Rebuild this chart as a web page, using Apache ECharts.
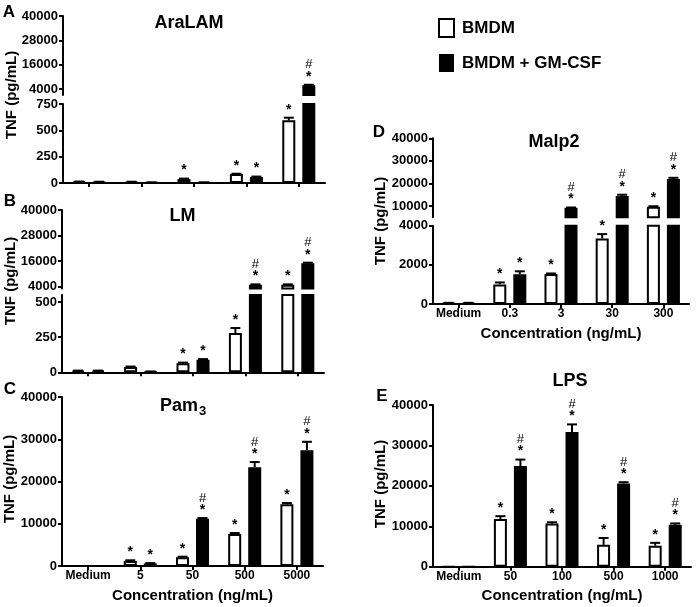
<!DOCTYPE html>
<html>
<head>
<meta charset="utf-8">
<script src="https://cdn.jsdelivr.net/npm/echarts@6/dist/echarts.min.js"></script>
<style>html,body{margin:0;padding:0;background:#fff}#c{width:697px;height:607px}</style>
</head>
<body>
<div id="c"></div>
<script>
// ---------- data ----------
const catsAB = ['Medium', '5', '50', '500', '5000'];
const catsD = ['Medium', '0.3', '3', '30', '300'];
const catsE = ['Medium', '50', '100', '500', '1000'];

// A: AraLAM
const araWhite = [12, 10, 38, 85, 595];
const araWhiteErr = [2, 2, 4, 3, 25];
const araBlack = [10, 5, 5, 58, 5800];
const araBlackErr = [2, 1, 1, 3, 250];
const araWhiteSig = ['', '', '*', '*', '*'];
const araBlackSig = ['', '', '', '*', '*#'];

// B: LM
const lmWhite = [10, 38, 65, 280, 5000];
const lmWhiteErr = [2, 3, 4, 35, 150];
const lmBlack = [10, 5, 90, 5000, 15000];
const lmBlackErr = [2, 1, 4, 150, 300];
const lmWhiteSig = ['', '', '*', '*', '*'];
const lmBlackSig = ['', '', '*', '*#', '*#'];

// C: Pam3
const pamWhite = [0, 1200, 2100, 7600, 14600];
const pamWhiteErr = [0, 150, 100, 200, 300];
const pamBlack = [0, 600, 11200, 23400, 27400];
const pamBlackErr = [0, 80, 150, 1200, 2000];
const pamWhiteSig = ['', '*', '*', '*', '*'];
const pamBlackSig = ['', '*', '*#', '*#', '*#'];

// D: Malp2
const malpWhite = [50, 1000, 1530, 3350, 9700];
const malpWhiteErr = [10, 100, 30, 220, 200];
const malpBlack = [50, 1520, 9200, 14400, 22000];
const malpBlackErr = [10, 150, 150, 600, 500];
const malpWhiteSig = ['', '*', '*', '*', '*'];
const malpBlackSig = ['', '*', '*#', '*#', '*#'];

// E: LPS
const lpsWhite = [0, 11800, 10700, 5400, 5200];
const lpsWhiteErr = [0, 700, 300, 1700, 700];
const lpsBlack = [0, 24900, 33300, 20600, 10400];
const lpsBlackErr = [0, 1600, 1900, 300, 300];
const lpsWhiteSig = ['', '*', '*', '*', '*'];
const lpsBlackSig = ['', '*#', '*#', '*#', '*#'];

// tick labels
const ticksUpper = [4000, 16000, 28000, 40000];
const ticksA = [0, 250, 500, 750];
const ticksB = [0, 250, 500];
const ticksFull = [0, 10000, 20000, 30000, 40000];
const ticksDUpper = [10000, 20000, 30000, 40000];
const ticksD = [0, 2000, 4000];

const seriesNames = ['BMDM', 'BMDM + GM-CSF'];
const xName = 'Concentration (ng/mL)';
const yName = 'TNF (pg/mL)';

// ---------- build ----------
const FONT = '"Liberation Sans", Arial, Helvetica, sans-serif';
const grids = [], xAxes = [], yAxes = [], series = [];
const BAR_W = 13, OFF = 10;

function errSeries(gi, vals, errs, sigs, offset, min, max) {
  return {
    type: 'custom', xAxisIndex: gi, yAxisIndex: gi, z: 5, silent: true,
    data: vals.map((v, i) => [i, v, errs[i]]),
    renderItem: function (params, api) {
      const i = params.dataIndex;
      const v = vals[i], e = errs[i], top = v + e;
      if (top < min || top > max) return null;
      const base = api.coord([i, v]);
      const tp = api.coord([i, top]);
      const x = base[0] + offset;
      const ch = [];
      if (e > 0) {
        ch.push({ type: 'line', shape: { x1: x, y1: base[1], x2: x, y2: tp[1] }, style: { stroke: '#000', lineWidth: 2 } });
        ch.push({ type: 'line', shape: { x1: x - 5, y1: tp[1], x2: x + 5, y2: tp[1] }, style: { stroke: '#000', lineWidth: 2 } });
      }
      const s = sigs[i];
      if (s.indexOf('*') >= 0) {
        ch.push({ type: 'text', style: { text: '*', x: x, y: tp[1] - 8, font: 'bold 14px ' + FONT, fill: '#000', align: 'center', verticalAlign: 'middle', textAlign: 'center', textVerticalAlign: 'middle' } });
      }
      if (s.indexOf('#') >= 0) {
        ch.push({ type: 'text', style: { text: '#', x: x, y: tp[1] - 20, font: '13px ' + FONT, fill: '#000', align: 'center', verticalAlign: 'middle', textAlign: 'center', textVerticalAlign: 'middle' } });
      }
      return { type: 'group', children: ch };
    }
  };
}

function addPanel(p) {
  p.segs.forEach(function (s, k) {
    const gi = grids.length;
    const isBottom = k === p.segs.length - 1;
    grids.push({ left: p.left, width: p.width, top: s.top, height: s.height, containLabel: false });
    xAxes.push({
      type: 'category', gridIndex: gi, data: p.cats,
      axisLine: { show: isBottom, onZero: false, lineStyle: { color: '#000', width: 2 } },
      axisTick: { show: isBottom, alignWithLabel: true, interval: 0, length: 4, lineStyle: { color: '#000', width: 2 } },
      axisLabel: { show: isBottom && p.xLabels, interval: 0, margin: 4, color: '#000', fontSize: 12, fontWeight: 'bold', fontFamily: FONT },
      splitLine: { show: false },
      name: (isBottom && p.xLabels) ? xName : '',
      nameLocation: 'middle', nameGap: 22,
      nameTextStyle: { color: '#000', fontSize: 15, fontWeight: 'bold', fontFamily: FONT }
    });
    yAxes.push({
      type: 'value', gridIndex: gi, min: s.min, max: s.max,
      axisLine: { show: true, onZero: false, lineStyle: { color: '#000', width: 2 } },
      axisTick: { show: true, length: 4, customValues: s.ticks, lineStyle: { color: '#000', width: 2 } },
      axisLabel: { show: true, margin: 5, customValues: s.ticks, formatter: function (v) { return String(v); },
        color: '#000', fontSize: 13, fontWeight: 'bold', fontFamily: FONT },
      splitLine: { show: false }
    });
    series.push({
      type: 'bar', name: seriesNames[0], xAxisIndex: gi, yAxisIndex: gi, data: p.white,
      barWidth: BAR_W, barGap: '54%', silent: true,
      itemStyle: { color: '#fff', borderColor: '#000', borderWidth: 2 }
    });
    series.push({
      type: 'bar', name: seriesNames[1], xAxisIndex: gi, yAxisIndex: gi, data: p.black,
      barWidth: BAR_W, barGap: '54%', silent: true,
      itemStyle: { color: '#000', borderColor: '#000', borderWidth: 2 }
    });
    series.push(errSeries(gi, p.white, p.whiteErr, p.whiteSig, -OFF, s.min, s.max));
    series.push(errSeries(gi, p.black, p.blackErr, p.blackSig, OFF, s.min, s.max));
  });
}

addPanel({ left: 63, width: 262, cats: catsAB, xLabels: false,
  white: araWhite, whiteErr: araWhiteErr, black: araBlack, blackErr: araBlackErr, whiteSig: araWhiteSig, blackSig: araBlackSig,
  segs: [{ top: 16, height: 79, min: 1000, max: 40000, ticks: ticksUpper },
         { top: 104, height: 79, min: 0, max: 750, ticks: ticksA }] });
addPanel({ left: 62, width: 262, cats: catsAB, xLabels: false,
  white: lmWhite, whiteErr: lmWhiteErr, black: lmBlack, blackErr: lmBlackErr, whiteSig: lmWhiteSig, blackSig: lmBlackSig,
  segs: [{ top: 210, height: 78.5, min: 3200, max: 40000, ticks: ticksUpper },
         { top: 295, height: 77.3, min: 0, max: 550, ticks: ticksB }] });
addPanel({ left: 62, width: 261, cats: catsAB, xLabels: true,
  white: pamWhite, whiteErr: pamWhiteErr, black: pamBlack, blackErr: pamBlackErr, whiteSig: pamWhiteSig, blackSig: pamBlackSig,
  segs: [{ top: 397, height: 169, min: 0, max: 40000, ticks: ticksFull }] });
addPanel({ left: 433, width: 256, cats: catsD, xLabels: true,
  white: malpWhite, whiteErr: malpWhiteErr, black: malpBlack, blackErr: malpBlackErr, whiteSig: malpWhiteSig, blackSig: malpBlackSig,
  segs: [{ top: 138.3, height: 79, min: 5000, max: 40000, ticks: ticksDUpper },
         { top: 225.7, height: 78.3, min: 0, max: 4000, ticks: ticksD }] });
addPanel({ left: 433, width: 258, cats: catsE, xLabels: true,
  white: lpsWhite, whiteErr: lpsWhiteErr, black: lpsBlack, blackErr: lpsBlackErr, whiteSig: lpsWhiteSig, blackSig: lpsBlackSig,
  segs: [{ top: 405, height: 161.7, min: 0, max: 40000, ticks: ticksFull }] });

function txt(text, x, y, size, opts) {
  opts = opts || {};
  return { type: 'text', x: x, y: y, rotation: opts.rot || 0, silent: true,
    style: { text: text, font: 'bold ' + size + 'px ' + FONT, fill: '#000',
      align: opts.align || 'center', verticalAlign: 'middle', textAlign: opts.align || 'center', textVerticalAlign: 'middle' } };
}

const graphics = [
  txt('A', 9, 12, 17), txt('B', 10, 201, 17), txt('C', 10, 389, 17), txt('D', 379, 132, 17), txt('E', 382, 396, 17),
  txt('AraLAM', 189, 23, 18), txt('LM', 182.5, 216.5, 18),
  txt('Pam', 160, 406, 18, { align: 'left' }), txt('3', 199, 411, 13, { align: 'left' }),
  txt('Malp2', 554, 142.5, 18), txt('LPS', 570, 381, 18),
  txt(yName, 12, 95, 15, { rot: Math.PI / 2 }), txt(yName, 11, 281, 15, { rot: Math.PI / 2 }),
  txt(yName, 10, 479, 15, { rot: Math.PI / 2 }), txt(yName, 381, 221, 15, { rot: Math.PI / 2 }),
  txt(yName, 381, 484, 15, { rot: Math.PI / 2 })
];

const chart = echarts.init(document.getElementById('c'), null, { renderer: 'canvas' });
chart.setOption({
  backgroundColor: '#fff',
  animation: false,
  legend: {
    orient: 'vertical', left: 433, top: 13, itemWidth: 15, itemHeight: 18, itemGap: 16,
    selectedMode: false,
    data: [
      { name: seriesNames[0], icon: 'rect', itemStyle: { color: '#fff', borderColor: '#000', borderWidth: 2 } },
      { name: seriesNames[1], icon: 'rect', itemStyle: { color: '#000', borderColor: '#000', borderWidth: 0 } }
    ],
    textStyle: { color: '#000', fontSize: 17, fontWeight: 'bold', fontFamily: FONT, padding: [0, 0, 0, 3] }
  },
  grid: grids, xAxis: xAxes, yAxis: yAxes, series: series, graphic: graphics
});
</script>
</body>
</html>
